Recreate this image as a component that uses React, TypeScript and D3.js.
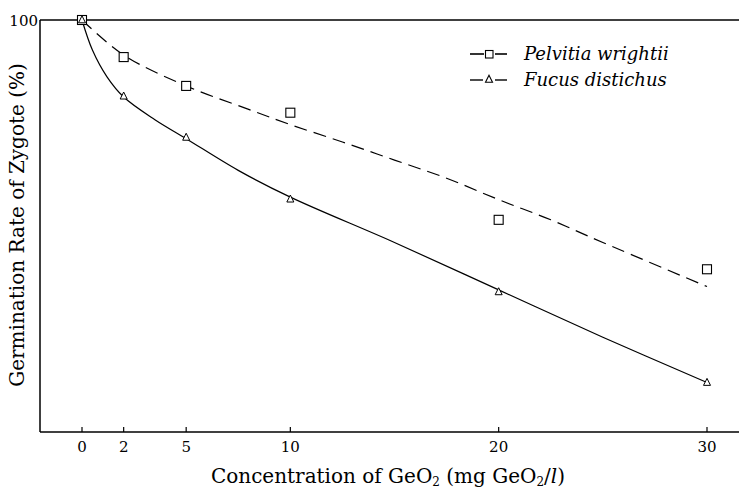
import React from 'react';
import * as d3 from 'd3';

// measured points
const concX = [0, 2, 5, 10, 20, 30];
const pelvitiaVals = [100, 91, 84, 77.5, 51.5, 39.5];
const fucusVals = [100, 81.5, 71.5, 56.5, 34, 12];

// hand-fitted curves
const pelvitiaFitX = [0, 2, 5, 8, 10, 12.5, 15, 17.5, 20, 22.5, 25, 30];
const pelvitiaFitY = [100, 91.5, 84, 78.3, 74.6, 70.4, 66, 61.6, 56.4, 51.5, 46, 35.3];
const fucusFitX = [0, 0.5, 1.2, 2, 3.5, 5, 7.5, 10, 15, 20, 25, 30];
const fucusFitY = [100, 92.7, 86.2, 81.3, 75.8, 71.2, 63.5, 57, 46, 34.5, 23, 12];

const xTicks = [0, 2, 5, 10, 20, 30];

const W = 739;
const H = 490;
const font = '"DejaVu Serif", "Liberation Serif", serif';

const App: React.FC = () => {
    const x = d3.scaleLinear().domain([0, 30]).range([82, 707]);
    const y = d3.scaleLinear().domain([0, 100]).range([432, 20]);

    const line = d3.line<[number, number]>()
        .x(d => x(d[0]))
        .y(d => y(d[1]))
        .curve(d3.curveCatmullRom.alpha(0.5));

    const pFit = pelvitiaFitX.map((v, i) => [v, pelvitiaFitY[i]] as [number, number]);
    const fFit = fucusFitX.map((v, i) => [v, fucusFitY[i]] as [number, number]);

    const tri = (cx: number, cy: number, s: number) =>
        `M${cx},${cy - s * 0.6}L${cx + s / 2},${cy + s * 0.4}L${cx - s / 2},${cy + s * 0.4}Z`;

    return (
        <svg width={W} height={H} style={{ position: 'absolute', left: 0, top: 0, background: '#fff' }}>
            {/* frame */}
            <line x1={40} x2={739} y1={20} y2={20} stroke="#000" strokeWidth={1.5} />
            <line x1={40} x2={40} y1={20} y2={432} stroke="#000" strokeWidth={1.5} />
            <line x1={40} x2={739} y1={432} y2={432} stroke="#000" strokeWidth={1.5} />

            {xTicks.map(t => (
                <g key={t}>
                    <line x1={x(t)} x2={x(t)} y1={432} y2={427} stroke="#000" strokeWidth={1.2} />
                    <text x={x(t)} y={452} textAnchor="middle" fontFamily={font} fontSize={15}>{t}</text>
                </g>
            ))}
            <text x={38} y={26} textAnchor="end" fontFamily={font} fontSize={15}>100</text>

            <text x={388} y={483} textAnchor="middle" fontFamily={font} fontSize={20}>
                Concentration of GeO<tspan fontSize={12} dy={3}>2</tspan>
                <tspan dy={-3}> (mg GeO</tspan><tspan fontSize={12} dy={3}>2</tspan>
                <tspan dy={-3}>/</tspan><tspan fontStyle="italic">l</tspan>)
            </text>
            <text transform="translate(24,225) rotate(-90)" textAnchor="middle" fontFamily={font} fontSize={20}>
                Germination Rate of Zygote (%)
            </text>

            {/* fitted curves */}
            <path d={line(pFit) || ''} fill="none" stroke="#000" strokeWidth={1.2} strokeDasharray="13,7" />
            <path d={line(fFit) || ''} fill="none" stroke="#000" strokeWidth={1.2} />

            {/* markers */}
            {concX.map((c, i) => (
                <rect key={'p' + i} x={x(c) - 4.5} y={y(pelvitiaVals[i]) - 4.5} width={9} height={9}
                    fill="#fff" stroke="#000" strokeWidth={1.1} />
            ))}
            {concX.map((c, i) => (
                <path key={'f' + i} d={tri(x(c), y(fucusVals[i]), 7)} fill="#fff" stroke="#000" strokeWidth={1} />
            ))}

            {/* legend */}
            <line x1={470} x2={484} y1={54} y2={54} stroke="#000" strokeWidth={1.6} />
            <rect x={485.5} y={50.5} width={7.5} height={7.5} fill="#fff" stroke="#000" strokeWidth={1.1} />
            <line x1={495} x2={507} y1={54} y2={54} stroke="#000" strokeWidth={1.6} />
            <text x={524} y={60} fontFamily={font} fontStyle="italic" fontSize={18}>Pelvitia wrightii</text>

            <line x1={470} x2={483} y1={80} y2={80} stroke="#000" strokeWidth={1.4} />
            <path d={tri(489, 79.5, 7)} fill="#fff" stroke="#000" strokeWidth={1.1} />
            <line x1={495} x2={507} y1={80} y2={80} stroke="#000" strokeWidth={1.4} />
            <text x={524} y={86} fontFamily={font} fontStyle="italic" fontSize={18}>Fucus distichus</text>
        </svg>
    );
};

export default App;
